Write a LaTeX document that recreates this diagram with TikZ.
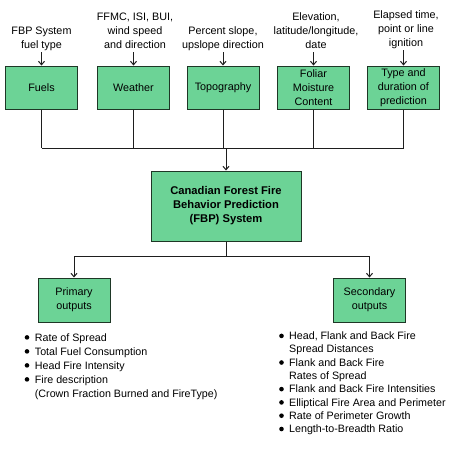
\documentclass[tikz,border=0pt]{standalone}
\usepackage{fontspec}
\setmainfont{Liberation Sans}
\usetikzlibrary{arrows.meta}
\definecolor{boxfill}{RGB}{108,211,150}
\definecolor{boxline}{RGB}{30,55,38}
\definecolor{conn}{RGB}{30,30,30}
\newcommand{\bul}{\tikz[baseline=0pt,x=1pt,y=1pt]\fill[black] (2.4,3.6) circle (2.3pt);}
\begin{document}
\begin{tikzpicture}[x=1pt,y=-1pt,
  box/.style={draw=boxline,fill=boxfill,line width=1pt,minimum width=72pt,minimum height=43pt,
    align=center,inner sep=1pt,font=\fontsize{10.8}{14}\selectfont},
  lbl/.style={align=center,inner sep=1pt,anchor=south,text depth=2.5pt,font=\fontsize{10.8}{14}\selectfont},
  conn/.style={draw=conn,line width=1pt},
  arr/.style={conn,-{Straight Barb[length=3.5pt,width=6pt]}},
  lst/.style={anchor=north west,inner sep=0pt,font=\fontsize{10.7}{14}\selectfont}]
\useasboundingbox (0,0) rectangle (450,451);
% input boxes
\node[box] (fuels) at (41.5,87.5) {Fuels};
\node[box] (weather) at (133.5,87.5) {Weather};
\node[box] (topo) at (223,87.5) {Topography};
\node[box] (foliar) at (313.5,87.5) {Foliar\\Moisture\\Content};
\node[box] (type) at (403.5,87.5) {Type and\\duration of\\prediction};
% labels
\node[lbl] (lfuels) at (41.5,52) {FBP System\\fuel type};
\node[lbl] (lweather) at (135,52) {FFMC, ISI, BUI,\\wind speed\\and direction};
\node[lbl] (ltopo) at (223,52) {Percent slope,\\upslope direction};
\node[lbl] (lfoliar) at (316,52) {Elevation,\\latitude/longitude,\\date};
\node[lbl] (ltype) at (406,50) {Elapsed time,\\point or line\\ignition};
\foreach \a/\b in {lfuels/fuels,lweather/weather,ltopo/topo,lfoliar/foliar,ltype/type}
  \draw[arr] (\a.south -| \b.north) -- (\b.north);
% central
\node[box,minimum width=150pt,minimum height=70pt,font=\fontsize{11.2}{14}\selectfont\bfseries] (fbp) at (226,206) {Canadian Forest Fire\\Behavior Prediction\\(FBP) System};
\coordinate (bus) at (0,148);
\foreach \b in {fuels,weather,topo,foliar,type}
  \draw[conn] (\b.south) -- (\b.south |- bus);
\draw[conn] (fuels.south |- bus) -- (type.south |- bus);
\draw[arr] (fbp.north |- bus) -- (fbp.north);
% outputs
\node[box,minimum height=44pt] (prim) at (74,300) {Primary\\outputs};
\node[box,minimum height=44pt] (sec) at (369.5,300) {Secondary\\outputs};
\coordinate (low) at (0,256);
\draw[arr] (fbp.south) -- (fbp.south |- low) -| (prim.north);
\draw[arr] (fbp.south) -- (fbp.south |- low) -| (sec.north);
% lists
\node[lst] (plist) at (24.5,331) {\begin{tabular}{@{}p{10.2pt}@{}l@{}}
\bul & Rate of Spread\\
\bul & Total Fuel Consumption\\
\bul & Head Fire Intensity\\
\bul & Fire description\\
 & (Crown Fraction Burned and FireType)
\end{tabular}};
\node[lst,font=\fontsize{10.7}{13.3}\selectfont] (slist) at (279,330) {\begin{tabular}{@{}p{10pt}@{}l@{}}
\bul & Head, Flank and Back Fire\\
 & Spread Distances\\
\bul & Flank and Back Fire\\
 & Rates of Spread\\
\bul & Flank and Back Fire Intensities\\
\bul & Elliptical Fire Area and Perimeter\\
\bul & Rate of Perimeter Growth\\
\bul & Length-to-Breadth Ratio
\end{tabular}};
\end{tikzpicture}
\end{document}
